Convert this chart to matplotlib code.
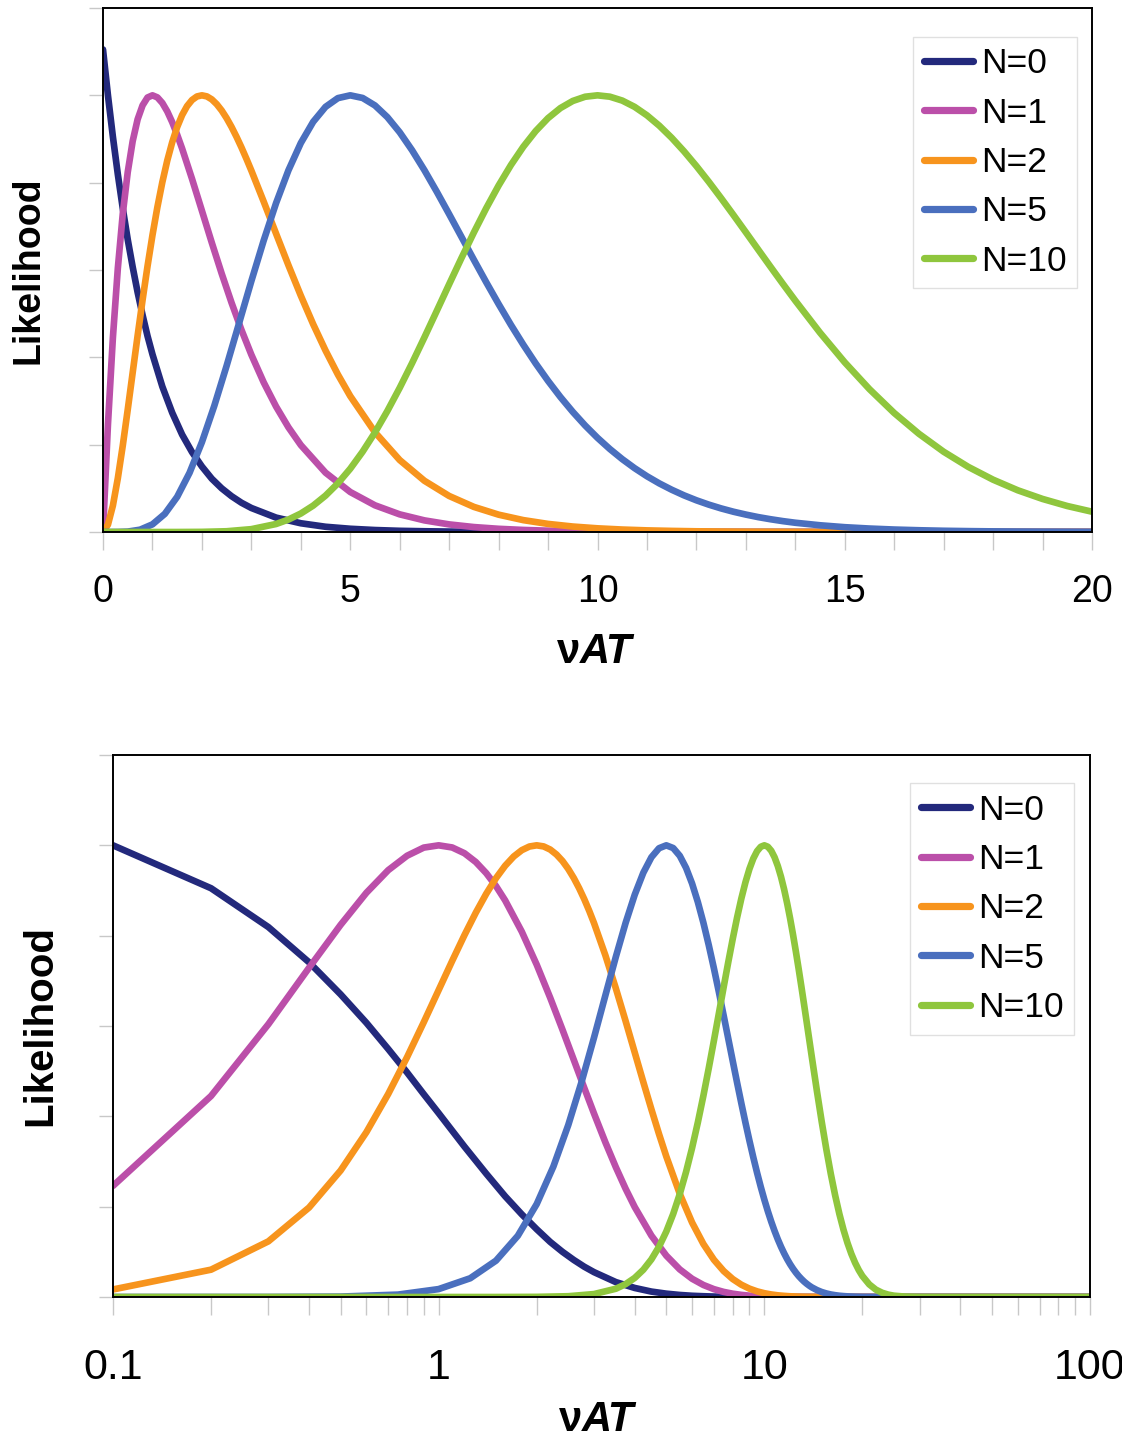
import matplotlib
matplotlib.use("Agg")
import matplotlib.pyplot as plt
import matplotlib.ticker as mticker

plt.rcParams['font.family'] = ['Liberation Sans', 'DejaVu Sans']

# ---- data (likelihood normalised to peak = 1) ----
# N = 0
x_n0 = [0, 0.1, 0.2, 0.3, 0.4, 0.5, 0.6, 0.7, 0.8, 0.9,
        1.0, 1.2, 1.4, 1.6, 1.8, 2.0, 2.2, 2.4, 2.6, 2.8,
        3.0, 3.5, 4.0, 4.5, 5.0, 5.5, 6.0, 6.5, 7.0, 7.5,
        8.0, 8.5, 9.0, 10, 20, 100]
lik_n0 = [1.105, 1.000, 0.905, 0.819, 0.741, 0.670, 0.607, 0.549, 0.497, 0.449,
          0.407, 0.333, 0.273, 0.223, 0.183, 0.150, 0.122, 0.100, 0.082, 0.067,
          0.055, 0.033, 0.020, 0.012, 0.0074, 0.0045, 0.0027, 0.0017, 0.0010, 0.0006,
          0.0004, 0.0002, 0.0001, 0, 0, 0]

# N = 1
x_n1 = [0, 0.1, 0.2, 0.3, 0.4, 0.5, 0.6, 0.7, 0.8, 0.9,
        1.0, 1.1, 1.2, 1.3, 1.4, 1.5, 1.6, 1.8, 2.0, 2.2,
        2.4, 2.6, 2.8, 3.0, 3.25, 3.5, 3.75, 4.0, 4.5, 5.0,
        5.5, 6.0, 6.5, 7.0, 7.5, 8.0, 8.5, 9.0, 9.5, 10,
        11, 12, 13, 20, 100]
lik_n1 = [0, 0.246, 0.445, 0.604, 0.729, 0.824, 0.895, 0.945, 0.977, 0.995,
          1.000, 0.9953, 0.9825, 0.9631, 0.9384, 0.9098, 0.8781, 0.8088, 0.7358, 0.6626,
          0.5918, 0.5249, 0.4628, 0.4060, 0.3425, 0.2873, 0.2397, 0.1991, 0.1359, 0.0916,
          0.0611, 0.0404, 0.0266, 0.0174, 0.0113, 0.0073, 0.0047, 0.0030, 0.0019, 0.0012,
          0.0005, 0.0002, 0, 0, 0]

# N = 2
x_n2 = [0, 0.1, 0.2, 0.3, 0.4, 0.5, 0.6, 0.7, 0.8, 0.9,
        1.0, 1.1, 1.2, 1.3, 1.4, 1.5, 1.6, 1.7, 1.8, 1.9,
        2.0, 2.1, 2.2, 2.3, 2.4, 2.5, 2.6, 2.7, 2.8, 2.9,
        3.0, 3.25, 3.5, 3.75, 4.0, 4.25, 4.5, 4.75, 5.0, 5.5,
        6.0, 6.5, 7.0, 7.5, 8.0, 8.5, 9.0, 9.5, 10, 10.5,
        11, 11.5, 12, 12.5, 13, 14, 15, 16, 20, 100]
lik_n2 = [0, 0.0167, 0.0605, 0.1232, 0.1981, 0.2801, 0.3650, 0.4495, 0.5312, 0.6084,
          0.6796, 0.7440, 0.8012, 0.8508, 0.8928, 0.9274, 0.9548, 0.9753, 0.9893, 0.9974,
          1.000, 0.9976, 0.9907, 0.9797, 0.9653, 0.9477, 0.9275, 0.9050, 0.8807, 0.8548,
          0.8277, 0.7565, 0.6833, 0.6109, 0.5413, 0.4759, 0.4156, 0.3606, 0.3112, 0.2284,
          0.1648, 0.1173, 0.0825, 0.0575, 0.0397, 0.0272, 0.0185, 0.0125, 0.0084, 0.0056,
          0.0037, 0.0025, 0.0016, 0.0011, 0.0007, 0.0003, 0.0001, 0, 0, 0]

# N = 5
x_n5 = [0, 0.1, 0.3, 0.5, 0.75, 1.0, 1.25, 1.5, 1.75, 2.0,
        2.25, 2.5, 2.75, 3.0, 3.25, 3.5, 3.75, 4.0, 4.25, 4.5,
        4.75, 5.0, 5.25, 5.5, 5.75, 6.0, 6.25, 6.5, 6.75, 7.0,
        7.25, 7.5, 7.75, 8.0, 8.25, 8.5, 8.75, 9.0, 9.25, 9.5,
        9.75, 10, 10.25, 10.5, 10.75, 11, 11.25, 11.5, 11.75, 12,
        12.25, 12.5, 12.75, 13, 13.25, 13.5, 13.75, 14, 14.5, 15,
        15.5, 16, 16.5, 17, 17.5, 18, 18.5, 19, 19.5, 20,
        22, 25, 100]
lik_n5 = [0, 0, 0.0001, 0.0009, 0.0053, 0.0175, 0.0415, 0.0805, 0.1355, 0.2057,
          0.2887, 0.3807, 0.4775, 0.5746, 0.6677, 0.7532, 0.8283, 0.8907, 0.9393, 0.9736,
          0.9936, 1.000, 0.9940, 0.9768, 0.9501, 0.9154, 0.8743, 0.8285, 0.7792, 0.7279,
          0.6756, 0.6233, 0.5719, 0.5221, 0.4742, 0.4288, 0.3860, 0.3461, 0.3091, 0.2751,
          0.2439, 0.2156, 0.1900, 0.1669, 0.1462, 0.1277, 0.1113, 0.0968, 0.0839, 0.0726,
          0.0627, 0.0540, 0.0464, 0.0399, 0.0341, 0.0292, 0.0249, 0.0212, 0.0154, 0.0110,
          0.0079, 0.0056, 0.0040, 0.0028, 0.0020, 0.0014, 0.0010, 0.0007, 0.0005, 0.0003,
          0.0001, 0, 0]

# N = 10
x_n10 = [0, 0.1, 1.0, 1.5, 2.0, 2.5, 3.0, 3.5, 3.75, 4.0,
         4.25, 4.5, 4.75, 5.0, 5.25, 5.5, 5.75, 6.0, 6.25, 6.5,
         6.75, 7.0, 7.25, 7.5, 7.75, 8.0, 8.25, 8.5, 8.75, 9.0,
         9.25, 9.5, 9.75, 10, 10.25, 10.5, 10.75, 11, 11.25, 11.5,
         11.75, 12, 12.25, 12.5, 12.75, 13, 13.25, 13.5, 13.75, 14,
         14.5, 15, 15.5, 16, 16.5, 17, 17.5, 18, 18.5, 19,
         19.5, 20, 21, 22, 23, 24, 25, 27, 30, 35,
         100]
lik_n10 = [0, 0, 0, 0, 0.0003, 0.0017, 0.0065, 0.0183, 0.0285, 0.0423,
           0.0604, 0.0833, 0.1114, 0.1449, 0.1839, 0.2280, 0.2770, 0.3301, 0.3867, 0.4458,
           0.5064, 0.5674, 0.6276, 0.6860, 0.7416, 0.7934, 0.8405, 0.8823, 0.9182, 0.9478,
           0.9708, 0.9871, 0.9968, 1.000, 0.9969, 0.9880, 0.9736, 0.9542, 0.9304, 0.9027,
           0.8717, 0.8380, 0.8021, 0.7645, 0.7258, 0.6864, 0.6467, 0.6072, 0.5681, 0.5298,
           0.4564, 0.3885, 0.3271, 0.2725, 0.2249, 0.1838, 0.1490, 0.1198, 0.0955, 0.0757,
           0.0595, 0.0465, 0.0279, 0.0163, 0.0094, 0.0053, 0.0029, 0.0009, 0.0001, 0,
           0]

series_labels = ["N=0", "N=1", "N=2", "N=5", "N=10"]
series_x = [x_n0, x_n1, x_n2, x_n5, x_n10]
series_values = [lik_n0, lik_n1, lik_n2, lik_n5, lik_n10]
series_colors = ["#23297c", "#bb4fa9", "#f7941d", "#4a6fbe", "#8fc63d"]

top_xticks = [0, 5, 10, 15, 20]
top_xticklabels = ["0", "5", "10", "15", "20"]
bot_xticks = [0.1, 1, 10, 100]
bot_xticklabels = ["0.1", "1", "10", "100"]
y_ticks = [0, 0.2, 0.4, 0.6, 0.8, 1.0, 1.2]

W, H = 1122, 1439
fig = plt.figure(figsize=(W / 100, H / 100), dpi=100)

def ax_rect(l, t, r, b):
    return [l / W, 1 - b / H, (r - l) / W, (b - t) / H]

ax1 = fig.add_axes(ax_rect(103, 8, 1092, 532))
ax2 = fig.add_axes(ax_rect(113, 755, 1090, 1297))

tick_gray = "#c8c8c8"

def style(ax, tick_size, pad, xlab_y, ylab_x, split, ylab_size, log):
    for lab, xs, vals, col in zip(series_labels, series_x, series_values, series_colors):
        if log:
            pts = [(a, b) for a, b in zip(xs, vals) if a > 0]
            xs = [p[0] for p in pts]
            vals = [p[1] for p in pts]
        ax.plot(xs, vals, color=col, lw=4.8, label=lab, solid_capstyle='round',
                solid_joinstyle='round')
    ax.set_ylim(0, 1.2)
    ax.set_yticks(y_ticks)
    ax.set_yticklabels([])
    for s in ax.spines.values():
        s.set_color("black")
        s.set_linewidth(1.4)
    ax.tick_params(axis='both', which='both', direction='out', color=tick_gray,
                   width=1.0, length=11)
    ax.tick_params(axis='x', which='both', labelsize=tick_size, pad=pad, length=13)
    ax.tick_params(axis='y', length=10)
    ax.text(split, xlab_y, "ν", transform=ax.transAxes, ha='right', va='center',
            fontsize=30, fontweight='bold')
    ax.text(split, xlab_y, "AT", transform=ax.transAxes, ha='left', va='center',
            fontsize=30, fontweight='bold', fontstyle='italic')
    ax.text(ylab_x, 0.5, "Likelihood", transform=ax.transAxes, rotation=90,
            ha='center', va='center', fontsize=ylab_size, fontweight='bold')

# top: linear axis
style(ax1, 27, 17, -0.229, -0.0758, 0.482, 27, False)
ax1.set_xlim(0, 20)
ax1.set_xticks(top_xticks)
ax1.set_xticklabels(top_xticklabels)
ax1.set_xticks(list(range(0, 21)), minor=True)

# bottom: log axis
style(ax2, 31, 24, -0.227, -0.0747, 0.48, 29, True)
ax2.set_xscale('log')
ax2.set_xlim(0.1, 100)
ax2.set_xticks(bot_xticks)
ax2.set_xticklabels(bot_xticklabels)
ax2.xaxis.set_minor_formatter(mticker.NullFormatter())

for ax, anchor in ((ax1, (0.985, 0.945)), (ax2, (0.984, 0.948))):
    leg = ax.legend(loc='upper right', bbox_to_anchor=anchor, borderaxespad=0,
                    fontsize=25.5, frameon=True, fancybox=False, handlelength=1.4,
                    handletextpad=0.22, labelspacing=0.46, borderpad=0.3)
    leg.get_frame().set_edgecolor("#d9d9d9")
    leg.get_frame().set_linewidth(1.0)
    for h in leg.get_lines():
        h.set_linewidth(5.2)

fig.savefig("out.png", dpi=100)
